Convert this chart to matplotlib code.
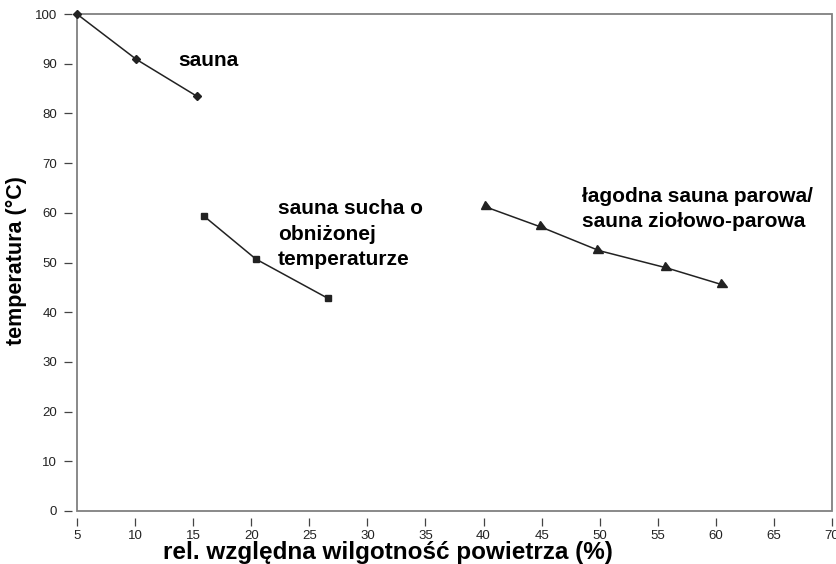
import numpy as np
import matplotlib.pyplot as plt
from matplotlib.patches import Rectangle
from matplotlib.markers import MarkerStyle
from matplotlib.transforms import Affine2D

plt.rcParams['font.family'] = ['Liberation Sans', 'DejaVu Sans']

# data
sauna_x = [5.0, 10.1, 15.3]
sauna_y = [100.0, 90.9, 83.5]
sucha_x = [15.9, 20.4, 26.6]
sucha_y = [59.4, 50.7, 42.8]
parowa_x = [40.3, 45.0, 49.95, 55.8, 60.6]
parowa_y = [61.1, 57.1, 52.4, 48.9, 45.5]

xticks = np.arange(5, 75, 5)
yticks = np.arange(0, 110, 10)

fig = plt.figure(figsize=(8.37, 5.64), dpi=100)
ax = fig.add_axes([0.092, 0.094, 0.902, 0.881])

arrow = MarkerStyle('>', transform=Affine2D().rotate_deg(-22))

ax.plot(sauna_x, sauna_y, color='#222222', lw=1.1, marker='D', ms=4.5, clip_on=False)
ax.plot(sucha_x, sucha_y, color='#222222', lw=1.1, marker='s', ms=4.5, clip_on=False)
ax.plot(parowa_x, parowa_y, color='#222222', lw=1.1, marker=arrow, ms=6.5, clip_on=False)

ax.set_xlim(5, 70)
ax.set_ylim(0, 100)
ax.set_xticks(xticks)
ax.set_yticks(yticks)

# ticks detached from the frame
for s in ax.spines.values():
    s.set_visible(False)
ax.spines['left'].set_position(('outward', 3.6))
ax.spines['bottom'].set_position(('outward', 5))
ax.add_patch(Rectangle((0, 0), 1, 1, transform=ax.transAxes, fill=False,
                       edgecolor='#808080', lw=1.3, clip_on=False, zorder=0))
ax.tick_params(axis='both', direction='out', length=5.8, width=0.9,
               color='#444444', labelsize=9.5, labelcolor='#222222')
ax.tick_params(axis='y', pad=5)
ax.tick_params(axis='x', pad=3)

txt = dict(fontsize=15, fontweight='bold', color='black', va='center', ha='left',
           linespacing=1.45)
ax.text(13.7, 90.7, 'sauna', **txt)
ax.text(22.3, 55.7, 'sauna sucha o\nobniżonej\ntemperaturze', **txt)
ax.text(48.5, 60.8, 'łagodna sauna parowa/\nsauna ziołowo-parowa', **txt)

ax.set_xlabel('rel. względna wilgotność powietrza (%)', fontsize=17.5, fontweight='bold',
              va='center')
ax.xaxis.set_label_coords(0.412, -0.083)
ax.set_ylabel('temperatura (°C)', fontsize=15.5, fontweight='bold')
ax.yaxis.set_label_coords(-0.066, 0.503)

plt.savefig('out.png', dpi=100)
